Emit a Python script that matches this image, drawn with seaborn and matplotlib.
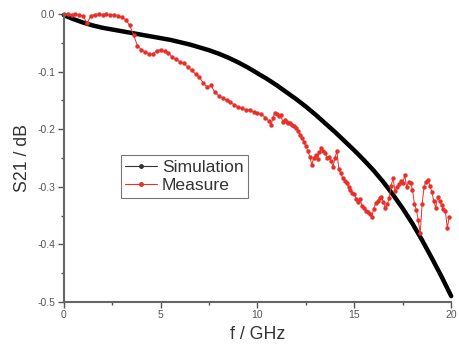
import matplotlib
matplotlib.use('Agg')
import matplotlib.pyplot as plt
from matplotlib.lines import Line2D
import seaborn as sns

# Simulation curve
sim_f = [0.0, 0.5, 1.0, 1.5, 2.0, 2.5, 3.0, 3.5, 4.0, 4.5, 5.0, 5.5, 6.0, 6.5,
         7.0, 7.5, 8.0, 8.5, 9.0, 9.5, 10.0, 10.5, 11.0, 11.5, 12.0, 12.5,
         13.0, 13.5, 14.0, 14.5, 15.0, 15.5, 16.0, 16.5, 17.0, 17.5, 18.0,
         18.5, 19.0, 19.5, 20.0]
sim_s21 = [-0.002, -0.009, -0.015, -0.020, -0.024, -0.027, -0.030, -0.033,
           -0.036, -0.039, -0.042, -0.045, -0.049, -0.053, -0.058, -0.063,
           -0.069, -0.076, -0.084, -0.093, -0.103, -0.113, -0.124, -0.136,
           -0.148, -0.161, -0.175, -0.190, -0.205, -0.221, -0.237, -0.254,
           -0.272, -0.292, -0.314, -0.338, -0.364, -0.393, -0.424, -0.456,
           -0.490]

meas_f = [0.0, 0.2, 0.4, 0.6, 0.8, 1.0, 1.2, 1.4, 1.6, 1.8, 2.0, 2.2, 2.4,
          2.6, 2.8, 3.0, 3.2, 3.4, 3.6, 3.8, 4.0, 4.2, 4.4, 4.6, 4.8, 5.0,
          5.2, 5.4, 5.6, 5.8, 6.0, 6.2, 6.4, 6.6, 6.8, 7.0, 7.2, 7.4, 7.6,
          7.8, 8.0, 8.2, 8.4, 8.6, 8.8, 9.0, 9.2, 9.4, 9.6, 9.8, 10.0, 10.2,
          10.4, 10.6, 10.7, 10.8, 10.9, 11.0, 11.1, 11.2, 11.3, 11.4, 11.5,
          11.6, 11.7, 11.8, 11.9, 12.0, 12.1, 12.2, 12.3, 12.4, 12.5, 12.6,
          12.7, 12.8, 12.9, 13.0, 13.1, 13.2, 13.3, 13.4, 13.5, 13.6, 13.7,
          13.8, 13.9, 14.0, 14.1, 14.2, 14.3, 14.4, 14.5, 14.6, 14.7, 14.8,
          14.9, 15.0, 15.1, 15.2, 15.3, 15.4, 15.5, 15.6, 15.7, 15.8, 15.9,
          16.0, 16.1, 16.2, 16.3, 16.4, 16.5, 16.6, 16.7, 16.8, 16.9, 17.0,
          17.1, 17.2, 17.3, 17.4, 17.5, 17.6, 17.7, 17.8, 17.9, 18.0, 18.1,
          18.2, 18.3, 18.4, 18.5, 18.6, 18.7, 18.8, 18.9, 19.0, 19.1, 19.2,
          19.3, 19.4, 19.5, 19.6, 19.7, 19.8, 19.9]
meas_s21 = [0.000, 0.000, -0.001, 0.000, -0.002, -0.004, -0.016, -0.003,
            -0.001, 0.000, -0.001, 0.000, -0.002, -0.001, -0.003, -0.006,
            -0.010, -0.020, -0.036, -0.055, -0.062, -0.066, -0.069, -0.070,
            -0.064, -0.062, -0.065, -0.068, -0.075, -0.079, -0.083, -0.086,
            -0.092, -0.098, -0.104, -0.110, -0.120, -0.127, -0.124, -0.136,
            -0.142, -0.146, -0.150, -0.153, -0.158, -0.161, -0.164, -0.166,
            -0.167, -0.170, -0.172, -0.174, -0.180, -0.186, -0.193, -0.180,
            -0.172, -0.174, -0.178, -0.176, -0.187, -0.184, -0.188, -0.190,
            -0.189, -0.192, -0.195, -0.198, -0.204, -0.210, -0.216, -0.222,
            -0.230, -0.238, -0.248, -0.262, -0.250, -0.245, -0.252, -0.240,
            -0.233, -0.238, -0.242, -0.250, -0.248, -0.256, -0.265, -0.250,
            -0.238, -0.270, -0.277, -0.285, -0.290, -0.294, -0.300, -0.306,
            -0.311, -0.313, -0.322, -0.326, -0.322, -0.334, -0.337, -0.342,
            -0.344, -0.348, -0.352, -0.338, -0.329, -0.325, -0.320, -0.318,
            -0.326, -0.337, -0.330, -0.320, -0.298, -0.285, -0.308, -0.300,
            -0.296, -0.290, -0.294, -0.280, -0.300, -0.292, -0.294, -0.305,
            -0.330, -0.340, -0.358, -0.381, -0.330, -0.300, -0.291, -0.288,
            -0.298, -0.309, -0.325, -0.337, -0.318, -0.325, -0.332, -0.338,
            -0.343, -0.372, -0.352]

x_ticks = [0, 5, 10, 15, 20]
y_ticks = [-0.5, -0.4, -0.3, -0.2, -0.1, 0.0]

sns.set_style('ticks')
plt.rcParams['font.family'] = ['Liberation Sans', 'DejaVu Sans']

fig, ax = plt.subplots(figsize=(4.59, 3.49), dpi=100)
fig.subplots_adjust(left=0.139, right=0.983, bottom=0.135, top=0.960)

sns.lineplot(x=sim_f, y=sim_s21, ax=ax, color='black', linewidth=3.2,
             sort=False, clip_on=False)
sns.lineplot(x=meas_f, y=meas_s21, ax=ax, color='#e8302a', linewidth=0.7,
             marker='o', markersize=3.2, markeredgewidth=0, sort=False,
             clip_on=False)

ax.set_xlim(0, 20)
ax.set_ylim(-0.5, 0.0)
ax.set_xticks(x_ticks)
ax.set_yticks(y_ticks)
ax.set_xticks([2.5, 7.5, 12.5, 17.5], minor=True)
ax.set_yticks([-0.45, -0.35, -0.25, -0.15, -0.05], minor=True)
ax.set_xticklabels([str(t) for t in x_ticks])
ax.set_yticklabels(['%.1f' % t for t in y_ticks])
ax.tick_params(axis='both', which='major', direction='out', length=4,
               width=1.0, color='#555555', labelsize=7.5, labelcolor='#555555',
               pad=2)
ax.tick_params(axis='both', which='minor', direction='out', length=2.5,
               width=1.0, color='#555555')

for side in ['top', 'right']:
    ax.spines[side].set_visible(False)
for side in ['left', 'bottom']:
    ax.spines[side].set_color('#666666')
    ax.spines[side].set_linewidth(1.5)

ax.set_xlabel('f / GHz', fontsize=12.8, color='#333333', labelpad=4)
ax.set_ylabel('S21 / dB', fontsize=12.8, color='#333333', labelpad=5)

handles = [
    Line2D([], [], color='#333333', linewidth=0.8, marker='o', markersize=2.5),
    Line2D([], [], color='#e8302a', linewidth=0.8, marker='o', markersize=2.5),
]
leg = ax.legend(handles, ['Simulation', 'Measure'], loc='upper left',
                bbox_to_anchor=(0.147, 0.51), fontsize=12.6, frameon=True,
                fancybox=False, edgecolor='#555555', handlelength=1.8,
                handletextpad=0.3, borderpad=0.25, labelspacing=0.2,
                borderaxespad=0)
leg.get_frame().set_linewidth(0.8)
for t in leg.get_texts():
    t.set_color('#333333')

fig.savefig('out.png', dpi=100)
